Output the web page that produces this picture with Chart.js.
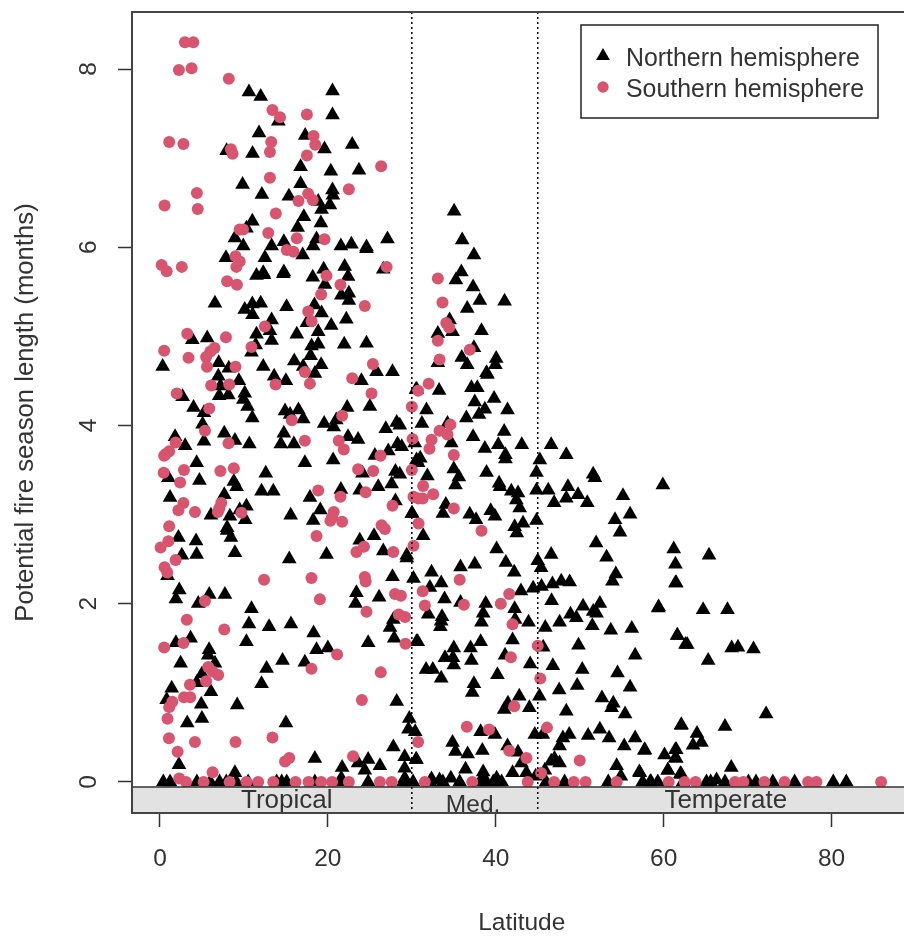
<!DOCTYPE html>
<html>
<head>
<meta charset="utf-8">
<title>Potential fire season length by latitude</title>
<script src="https://cdn.jsdelivr.net/npm/chart.js@4/dist/chart.umd.min.js"></script>
<style>
  html, body { margin: 0; padding: 0; background: #fff; overflow: hidden; }
  canvas { display: block; }
</style>
</head>
<body>
<canvas id="fire_chart" width="920" height="937"></canvas>
<script>
const xTicks = [0, 20, 40, 60, 80]
const yTicks = [0, 2, 4, 6, 8]
const zoneBreaks = [30, 45]
const zoneNames = ['Tropical', 'Med.', 'Temperate']
const zoneCentres = [15.1, 37.3, 67.4]

// [latitude, months]
const northern = [
  [10.6,7.76],[12,7.71],[20.55,7.77],[20.55,7.5],[14.1,7.43],[11.8,7.3],[17.3,7.27],[22.9,7.17],[7.94,7.1],[11.03,7.07],
  [19.6,7.12],[16.75,6.92],[20.35,6.87],[23.7,6.88],[16.75,6.73],[9.84,6.72],[12.14,6.61],[20.55,6.66],[20.6,6.6],[15.36,6.59],
  [18.85,6.53],[20.24,6.49],[19.25,6.44],[17.14,6.36],[19.17,6.29],[11,6.31],[16.4,6.24],[10.3,6.23],[8.93,6.12],[18.65,6.11],
  [27.1,6.11],[9.92,6.03],[13.3,6.03],[14.76,6.08],[18.25,6.03],[21.55,6.03],[22.8,6.05],[24.6,6.02],[24.6,6],[7.86,5.9],
  [12.5,5.9],[17,5.93],[22,5.8],[12.3,5.73],[14.76,5.74],[19.5,5.77],[26.6,5.77],[11.5,5.7],[12.4,5.71],[14.7,5.72],
  [18.2,5.68],[22.4,5.69],[19.65,5.6],[21.6,5.48],[22.5,5.5],[22.5,5.42],[6.55,5.39],[10.1,5.32],[11,5.38],[12,5.39],
  [11.03,5.26],[15.08,5.35],[18.4,5.37],[19.25,5.28],[17.5,5.17],[20.4,5.14],[22.2,5.21],[13.3,5.2],[13.1,5.08],[11.5,5.04],
  [18.85,5.07],[16.3,5.04],[3.85,4.98],[5.63,5],[13.3,4.97],[11.4,4.92],[18.06,4.91],[18.85,4.93],[21.95,4.93],[24.6,4.94],
  [10.9,4.84],[17.94,4.8],[16,4.74],[0.32,4.68],[7,4.72],[8.2,4.66],[12.3,4.68],[19.2,4.7],[17.06,4.68],[18.45,4.6],
  [25.8,4.62],[27.7,4.62],[6.95,4.57],[13.6,4.57],[15,4.52],[9.4,4.52],[24,4.52],[7.2,4.46],[10.1,4.38],[2.7,4.34],
  [7.06,4.35],[8.15,4.36],[9.94,4.31],[30.5,4.42],[25,4.23],[22.3,4.22],[4,4.22],[10.44,4.23],[5.24,4.16],[14.9,4.18],
  [16.5,4.19],[11,4.1],[15.5,4.14],[17.06,4.09],[19.56,4.04],[20.7,4],[21,4.08],[28.2,4.05],[5.08,4.03],[26.9,3.98],
  [1.8,3.89],[7.66,3.93],[8.93,3.85],[14.76,3.93],[22.4,3.89],[23.6,3.86],[5.24,3.84],[3,3.79],[10.64,3.81],[14.4,3.81],
  [15.95,3.81],[28.3,3.81],[27.2,3.73],[25.6,3.68],[4.37,3.6],[17.26,3.6],[20.63,3.63],[30.56,3.63],[1,3.43],[12.6,3.48],
  [24.13,3.48],[28.05,3.5],[4.7,3.4],[8.8,3.39],[9.13,3.33],[12.1,3.28],[13.5,3.28],[21.55,3.3],[23.8,3.29],[26,3.33],
  [27.6,3.36],[1.2,3.21],[7.66,3.24],[17.86,3.21],[28.05,3.17],[10.3,3.11],[19.1,3.07],[9.5,3.07],[6.07,3.01],[8.33,3],
  [10.16,2.96],[15.57,3.01],[18.25,2.95],[30,3.03],[8,2.87],[2.2,2.76],[4.3,2.72],[8,2.84],[8.45,2.76],[23.8,2.73],
  [25.5,2.78],[2.6,2.56],[4.37,2.57],[8.93,2.59],[15.4,2.52],[19.84,2.57],[26.6,2.61],[29.4,2.56],[0.9,2.33],[27.7,2.32],
  [30.2,2.3],[2.3,2.17],[1.9,2.07],[5.87,2.12],[7.74,2.12],[4.56,2.02],[23.4,2.14],[23.3,2.02],[26.1,2.09],[10.9,1.96],
  [10.6,1.79],[13,1.76],[15.6,1.79],[18.3,1.69],[27.8,1.84],[27.4,1.75],[27.9,1.63],[10.3,1.59],[3.65,1.63],[1.9,1.58],
  [24.8,1.58],[30.56,1.59],[5.85,1.5],[5.75,1.44],[18.65,1.5],[20,1.52],[2.46,1.35],[6.55,1.35],[14.6,1.38],[17.26,1.36],
  [12.7,1.29],[5,1.23],[4.37,1.13],[12.1,1.12],[1.4,1.07],[6.07,1.03],[0.8,0.94],[28.2,0.92],[4.92,0.89],[9.2,0.88],
  [5,0.73],[3.25,0.68],[15,0.68],[29.7,0.73],[29.6,0.61],[30.4,0.58],[27.8,0.41],[2.26,0.21],[18.45,0.28],[21.7,0.18],
  [23.6,0.23],[24.8,0.27],[26.2,0.2],[24.4,0.15],[29.15,0.3],[30.5,0.27],[29.15,0.17],[8.93,0.12],[21.6,0.06],
  [35.04,6.42],[36,6.1],[37.4,5.93],[35.9,5.74],[35.25,5.65],[37.3,5.57],[38.1,5.42],[41.05,5.41],[36.6,5.33],[34.5,5.2],
  [33.1,5.05],[34.85,5.07],[38.3,5.08],[37.4,4.89],[35.95,4.78],[36.6,4.7],[40.05,4.77],[39.95,4.7],[33.1,4.72],[38.9,4.61],
  [39,4.59],[30.6,4.42],[33.25,4.41],[37.1,4.44],[37.8,4.44],[37.5,4.28],[39.8,4.32],[38.7,4.2],[41.4,4.19],[31.75,4.19],
  [38,4.14],[36.5,4.1],[31.2,4.04],[28.57,4.02],[41,3.95],[34.25,4.04],[37.3,3.89],[40.3,3.8],[43.1,3.8],[38.7,3.76],
  [34.7,3.82],[30.35,3.82],[28.8,3.78],[46.6,3.8],[48.4,3.69],[41.15,3.69],[41.15,3.64],[45.25,3.63],[31,3.65],[30.75,3.6],
  [44.85,3.49],[38.9,3.49],[35,3.53],[31.85,3.45],[35.6,3.44],[51.6,3.47],[51.8,3.43],[28.57,3.47],[40.4,3.37],[40.5,3.33],
  [35.2,3.35],[48.6,3.33],[59.9,3.35],[41.85,3.28],[44.85,3.29],[46.25,3.29],[42.65,3.26],[42.45,3.18],[42.85,3.09],[49.8,3.24],
  [48.4,3.2],[55.15,3.23],[46.95,3.15],[50.9,3.15],[34.05,3.13],[30.05,3.03],[33.7,3.03],[36.9,3.02],[37.65,2.96],[39.4,3.06],
  [39.9,3],[56,3.02],[54.2,2.96],[44.85,2.95],[43.25,2.92],[42.25,2.88],[42.5,2.81],[54.8,2.82],[31.35,2.78],[51.95,2.7],
  [40.1,2.63],[61.2,2.63],[46.6,2.57],[53.2,2.54],[29.4,2.53],[61.4,2.46],[45,2.5],[41.2,2.48],[35.8,2.43],[37.5,2.46],
  [32.35,2.37],[45.4,2.42],[42.2,2.37],[54.3,2.35],[53.9,2.27],[61.5,2.25],[33.5,2.25],[32.15,2.2],[48.8,2.26],[47.8,2.27],
  [46.75,2.24],[45.45,2.21],[44.45,2.19],[43,2.16],[46.65,2.05],[33.9,2.07],[35.8,2.03],[38.8,2.02],[52.4,2.02],[50.4,1.99],
  [42.25,1.96],[38.5,1.91],[59.35,1.97],[31.95,1.9],[48.9,1.9],[51.6,1.93],[52,1.91],[49.6,1.86],[33.6,1.87],[33.5,1.82],
  [33.4,1.76],[38.3,1.81],[42.3,1.84],[43.9,1.81],[47.6,1.81],[51.5,1.77],[45.9,1.75],[53.7,1.72],[56.2,1.74],[61.65,1.66],
  [62.6,1.56],[42,1.61],[38.2,1.59],[30.7,1.59],[45.65,1.53],[49.85,1.55],[37,1.52],[35,1.52],[33.95,1.41],[34.9,1.41],
  [35,1.33],[37.1,1.38],[41.1,1.44],[56.6,1.44],[44.1,1.34],[46.8,1.32],[50.3,1.28],[31.7,1.28],[32.5,1.28],[33.5,1.18],
  [40.2,1.22],[54.5,1.24],[37.4,1.12],[37.2,1.02],[49.7,1.1],[56,1.08],[47.55,1.05],[45.2,0.98],[52.65,0.96],[42.8,0.98],
  [41.45,0.9],[41,0.83],[44,0.85],[48.4,0.81],[54,0.9],[53.8,0.85],[55.4,0.78],[62.1,0.66],[38.2,0.58],[39.9,0.55],
  [44.65,0.55],[45.6,0.55],[48.75,0.55],[52.4,0.61],[51,0.54],[48,0.51],[53.5,0.51],[56.6,0.51],[47.6,0.42],[34.85,0.46],
  [35.2,0.36],[36.65,0.33],[38.4,0.37],[41.4,0.42],[42.65,0.35],[55.3,0.42],[57.75,0.38],[60.1,0.32],[61.5,0.38],[61.5,0.28],
  [30.55,0.27],[47,0.28],[46.6,0.25],[47.6,0.23],[43.05,0.23],[54.4,0.2],[36.4,0.16],[45.85,0.15],[38.5,0.13],[60.5,0.15],
  [57.15,0.12],[43.65,0.12],[42,0.12],[62.1,0.1],[44.75,0.08],[54.9,0.08],[29.15,0.06],[32.35,0.05],[33.3,0.04],[34.65,0.06],
  [38.5,0.04],[40.1,0.06],[59.4,1.98],[64.7,1.95],[67.6,1.95],[65.4,2.56],[61.4,2.25],[61.6,1.66],[62.8,1.56],[65.3,1.38],
  [68.1,1.52],[68.85,1.53],[70.7,1.51],[72.2,0.78],[62.1,0.65],[67.3,0.64],[63.97,0.56],[63.5,0.43],[64.5,0.46],[57.7,0.37],
  [61.4,0.38],[61.4,0.29],[60.5,0.15],[68.05,0.18],[62,0.11],[57.1,0.13],[58.4,0.02],[66.3,0.04]
]
const northernZero = [0.4, 1.2, 4.4, 6, 7.1, 7.9, 9.1, 10.5, 13.9, 14.5, 15.1, 18.45, 21.4, 24.8, 29, 29.4, 30.15, 32.15,
  33.7, 35.7, 38.1, 38.9, 39.7, 40.7, 46, 48.2, 53.4, 57.5, 58.5, 59.3, 62.3, 65.1, 65.6, 67.3, 70.1, 71, 73, 75.6, 80.2, 81.75]

const southern = [
  [2.97,8.3],[3.97,8.3],[2.26,7.99],[3.77,8.01],[8.2,7.89],[13.4,7.54],[14.3,7.46],[17.5,7.49],[18.3,7.25],[18.5,7.15],
  [17.5,7.03],[1.1,7.18],[2.8,7.16],[8.45,7.1],[8.65,7.05],[13.25,7.18],[13.1,7.07],[26.35,6.91],[13.1,6.78],[22.5,6.65],
  [4.4,6.61],[0.55,6.47],[4.5,6.43],[17.66,6.6],[18.2,6.53],[16.5,6.52],[13.8,6.38],[9.5,6.2],[9.9,6.2],[12.9,6.16],
  [16.3,6.1],[19.6,6.09],[15.1,5.97],[15.9,5.95],[9,5.9],[9.5,5.84],[9.1,5.78],[0.2,5.8],[0.8,5.73],[2.6,5.78],
  [27,5.78],[8,5.62],[9.17,5.58],[19.84,5.68],[21.5,5.58],[19.2,5.47],[24.4,5.34],[17.66,5.28],[18.06,5.17],[12.5,5.11],
  [3.25,5.03],[7.86,4.99],[10.9,4.88],[6.5,4.87],[6,4.83],[5.5,4.77],[0.5,4.84],[3.4,4.76],[5.6,4.66],[9,4.66],
  [25.36,4.69],[17.26,4.6],[17.86,4.47],[22.9,4.53],[13.77,4.46],[6.1,4.45],[8.25,4.46],[2,4.36],[25.2,4.36],[30,4.21],
  [5.87,4.19],[21.7,4.11],[15.7,4.06],[5.36,3.94],[30.08,3.85],[17.26,3.83],[1.87,3.81],[8.17,3.8],[21.3,3.83],[21.9,3.73],
  [1.1,3.71],[0.7,3.68],[0.5,3.66],[26.27,3.66],[30,3.5],[25.4,3.49],[23.6,3.51],[7.2,3.49],[8.8,3.52],[2.86,3.5],
  [0.44,3.47],[2.4,3.36],[18.85,3.27],[21.5,3.2],[24.5,3.25],[30.2,3.2],[30.8,3.18],[2.8,3.13],[2.2,3.05],[4.17,3.03],
  [7.3,3.13],[7.06,3.07],[6.9,3.03],[9.7,3.02],[27.7,3.1],[20.7,3.03],[20.5,2.97],[21.7,2.92],[26.4,2.88],[26.8,2.84],
  [1.1,2.87],[18.65,2.76],[20.3,2.93],[1,2.7],[0.08,2.63],[1.87,2.49],[0.55,2.41],[0.87,2.35],[23.4,2.58],[24.3,2.64],
  [27.8,2.58],[30.2,2.65],[30.8,2.9],[12.4,2.27],[18.05,2.29],[24.4,2.3],[24.5,2.25],[28,2.11],[28.7,2.09],[19.05,2.05],
  [5.36,2.03],[24.6,1.91],[28.45,1.88],[29.2,1.85],[3.2,1.82],[7.66,1.71],[0.5,1.51],[2.8,1.56],[29.25,1.55],[21.1,1.43],
  [18.05,1.27],[26.3,1.23],[5.75,1.29],[6.27,1.24],[6.94,1.2],[5.5,1.13],[3.57,1.09],[1.47,0.9],[1.1,0.84],[2.86,0.95],
  [3.6,0.95],[0.9,0.71],[24.05,0.92],[1.07,0.49],[4.17,0.45],[9,0.45],[13.4,0.5],[2.1,0.34],[14.9,0.23],[15.4,0.27],
  [23,0.29],[6.27,0.11],[2.3,0.04],[33.1,5.65],[33.65,5.38],[34.1,5.15],[34.45,5.1],[33.1,4.95],[33.3,4.74],[32,4.47],
  [30.75,4.39],[36.9,4.85],[34.6,4.01],[33.3,3.94],[34.25,3.9],[32.35,3.84],[32.1,3.74],[35,3.67],[31.35,3.32],[32.55,3.23],
  [31.3,3.18],[35,3.07],[38.3,2.82],[35.7,2.27],[31.3,2.14],[41.6,2.11],[40.6,2],[36.2,1.99],[31.55,1.98],[42,1.77],
  [45,1.53],[41.8,1.4],[45.3,1.16],[42.2,0.85],[36.55,0.62],[39.2,0.59],[46.1,0.61],[30.75,0.45],[41.6,0.35],[43.65,0.27],
  [50,0.24],[45.4,0.1]
]
const southernZero = [3.1, 5.2, 8.3, 10.3, 11.7, 13.5, 16.15, 17.7, 19.2, 20.5, 22.5, 26.2, 27.6, 31.55, 37.2, 43.8, 46.95,
  49.3, 50.7, 54.4, 60.6, 62.5, 63.8, 68.5, 69.5, 72, 74.4, 77.2, 78.2, 85.9]

const legendLabels = ['Northern hemisphere', 'Southern hemisphere']

// triangles were read at mid height, the marker anchors a little lower than that
const TRIANGLE_READ_OFFSET = 0.017

const INK = '#333333'
const ROSE = '#D8546F'
const FONT = '"Liberation Sans", Arial, sans-serif'

const toPoints = (pairs, zeros, offset) => pairs.map(([x, y]) => ({x, y: y - offset})).concat(zeros.map((x) => ({x, y: 0})))

const noScalePadding = (scale) => {
  scale.paddingTop = 0
  scale.paddingBottom = 0
  scale.paddingLeft = 0
  scale.paddingRight = 0
}

const frameAndZones = {
  id: 'frameAndZones',
  afterDatasetsDraw(chart) {
    const {ctx, chartArea: {left, right, top, bottom}, scales: {x, y}} = chart
    const bandTop = y.getPixelForValue(-0.055)
    ctx.save()
    ctx.fillStyle = '#E2E2E2'
    ctx.fillRect(left, bandTop, right - left, bottom - bandTop)
    ctx.strokeStyle = INK
    ctx.lineWidth = 1.5
    ctx.beginPath()
    ctx.moveTo(left, bandTop)
    ctx.lineTo(right, bandTop)
    ctx.stroke()

    ctx.strokeStyle = '#000'
    ctx.lineWidth = 1.5
    ctx.setLineDash([2, 3])
    zoneBreaks.forEach((lat) => {
      const px = x.getPixelForValue(lat)
      ctx.beginPath()
      ctx.moveTo(px, top)
      ctx.lineTo(px, bottom)
      ctx.stroke()
    })
    ctx.setLineDash([])

    ctx.fillStyle = INK
    ctx.textAlign = 'center'
    ctx.textBaseline = 'middle'
    zoneNames.forEach((name, i) => {
      ctx.font = `${name === 'Med.' ? 24.5 : 26}px ${FONT}`
      ctx.fillText(name, x.getPixelForValue(zoneCentres[i]), name === 'Med.' ? 805 : 801)
    })

    ctx.strokeStyle = '#444'
    ctx.lineWidth = 2
    ctx.strokeRect(left, top, right + 10 - left, bottom - top)

    // legend box
    ctx.fillStyle = '#fff'
    ctx.fillRect(581, 25, 297, 93)
    ctx.strokeStyle = '#222'
    ctx.lineWidth = 1.5
    ctx.strokeRect(581, 25, 297, 93)
    ctx.textAlign = 'left'
    ctx.font = `24.9px ${FONT}`
    ctx.fillStyle = INK
    legendLabels.forEach((label, i) => ctx.fillText(label, 626, 59 + i * 31))
    ctx.fillStyle = '#000'
    Chart.helpers.drawPoint(ctx, {pointStyle: 'triangle', radius: 8, rotation: 0, borderWidth: 0}, 603, 56)
    ctx.fillStyle = ROSE
    ctx.beginPath()
    ctx.arc(603, 87, 5.7, 0, Math.PI * 2)
    ctx.fill()
    ctx.restore()
  }
}

new Chart(document.getElementById('fire_chart').getContext('2d'), {
  type: 'scatter',
  data: {
    datasets: [
      {
        label: legendLabels[0],
        data: toPoints(northern, northernZero, TRIANGLE_READ_OFFSET),
        pointStyle: 'triangle',
        pointRadius: 8.5,
        backgroundColor: '#000',
        borderColor: '#000',
        borderWidth: 0,
        order: 2
      },
      {
        label: legendLabels[1],
        data: toPoints(southern, southernZero, 0),
        pointStyle: 'circle',
        pointRadius: 6,
        backgroundColor: ROSE,
        borderColor: ROSE,
        borderWidth: 0,
        order: 1
      }
    ]
  },
  options: {
    responsive: false,
    animation: false,
    layout: {padding: {top: 12, left: 0, right: 0, bottom: 0}},
    plugins: {legend: {display: false}, tooltip: {enabled: false}},
    scales: {
      x: {
        type: 'linear',
        min: -3.33,
        max: 89.52,
        afterBuildTicks: (scale) => { scale.ticks = xTicks.map((value) => ({value})) },
        afterFit: (scale) => { scale.height = 124; noScalePadding(scale) },
        grid: {drawOnChartArea: false, tickLength: 14, tickColor: INK, tickWidth: 1.5},
        border: {display: false},
        ticks: {color: INK, font: {family: FONT, size: 24.5}, padding: 18, maxRotation: 0, autoSkip: false},
        title: {display: true, text: 'Latitude', color: INK, font: {family: FONT, size: 24.5}, padding: {top: 0, bottom: -1}}
      },
      y: {
        type: 'linear',
        min: -0.348,
        max: 8.64,
        afterBuildTicks: (scale) => { scale.ticks = yTicks.map((value) => ({value})) },
        afterFit: (scale) => { scale.width = 132; noScalePadding(scale) },
        grid: {drawOnChartArea: false, tickLength: 14, tickColor: INK, tickWidth: 1.5},
        border: {display: false},
        ticks: {color: INK, font: {family: FONT, size: 24.5}, padding: 22, crossAlign: 'center', minRotation: 90, maxRotation: 90, autoSkip: false},
        title: {display: true, text: 'Potential fire season length (months)', color: INK, font: {family: FONT, size: 25.7}, padding: {top: 10, bottom: 0}}
      }
    }
  },
  plugins: [frameAndZones]
})
</script>
</body>
</html>
